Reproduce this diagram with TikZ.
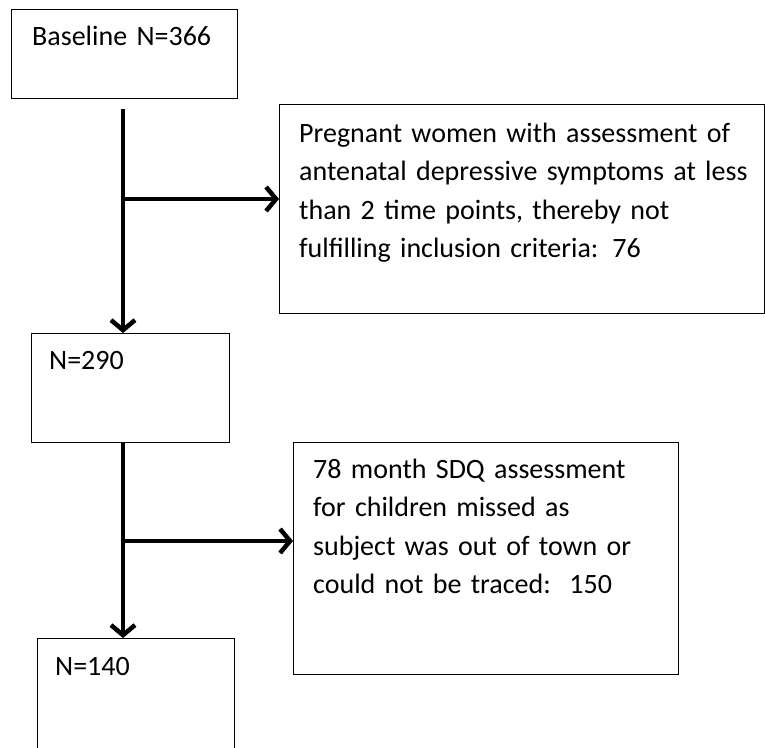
\documentclass[tikz,border=0pt]{standalone}
\usepackage{fontspec}
\setmainfont{Carlito}[WordSpace=0.7]
\usetikzlibrary{arrows.meta}

\begin{document}
\begin{tikzpicture}[x=1pt, y=-1pt, font=\fontsize{28}{38.5}\selectfont,
    box/.style={draw, line width=1.4pt, anchor=north west, inner sep=0pt},
    txt/.style={anchor=base west, align=left, inner sep=0pt},
    flow/.style={line width=4.5pt, -{Straight Barb[length=10pt,width=24pt]}}]
  \useasboundingbox (0,0) rectangle (765,747);

  % boxes
  \node[box, minimum width=226pt, minimum height=89pt] (b1) at (11,9) {};
  \node[box, minimum width=485pt, minimum height=209pt] (b2) at (279,104) {};
  \node[box, minimum width=198pt, minimum height=109pt] (b3) at (31,333) {};
  \node[box, minimum width=385pt, minimum height=232pt] (b4) at (293,442) {};
  \node[box, minimum width=197pt, minimum height=130pt] (b5) at (37,638) {};

  % texts
  \node[txt, text width=200pt] (t1) at ([shift={(21pt,-36pt)}]b1.north west) {Baseline N=366};
  \node[txt, text width=470pt] (t2) at ([shift={(20pt,-38pt)}]b2.north west)
    {Pregnant women with assessment of\\antenatal depressive symptoms at less\\than 2 time points, thereby not\\fulfilling inclusion\ criteria: 76};
  \node[txt, text width=170pt] (t3) at ([shift={(18pt,-36pt)}]b3.north west) {N=290};
  \node[txt, text width=360pt] (t4) at ([shift={(20pt,-36pt)}]b4.north west)
    {78 month SDQ assessment\\for children missed as\\subject was out of town or\\could not be traced:\ \ 150};
  \node[txt, text width=170pt] (t5) at ([shift={(18pt,-37pt)}]b5.north west) {N=140};

  % connectors
  \coordinate (j1) at (123,199);
  \coordinate (j2) at (123,541);

  \draw[flow] ([yshift=-10pt]j1 |- b1.south) -- (j1 |- b3.north);
  \draw[flow] (j1) -- (j1 -| b2.west);
  \draw[flow] (j2 |- b3.south) -- (j2 |- b5.north);
  \draw[flow] (j2) -- (j2 -| b4.west);
\end{tikzpicture}
\end{document}
